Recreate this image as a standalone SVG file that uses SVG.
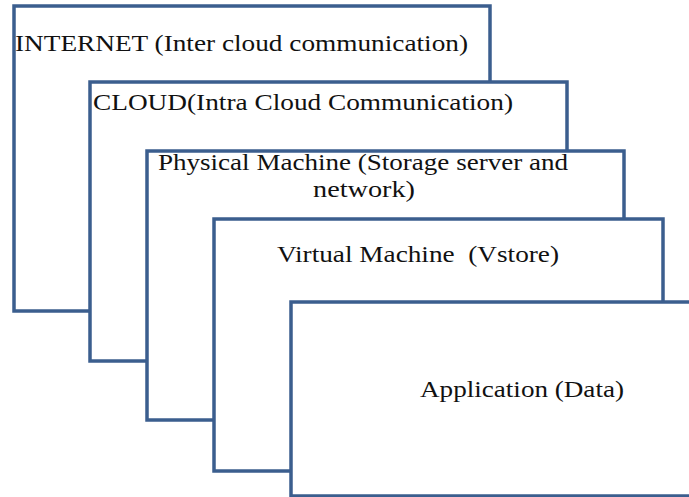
<svg xmlns="http://www.w3.org/2000/svg" width="689" height="497" viewBox="0 0 689 497">
<style>
.box{fill:#fff;stroke:#3B5E8E;stroke-width:3.5}
.t{font-family:"Liberation Serif","Times New Roman",serif;font-size:23px;fill:#111;white-space:pre}
</style>
<rect width="689" height="497" fill="#fff"/>
<g id="internet"><rect class="box" x="14" y="6" width="476" height="305"/>
<text class="t" x="15" y="51" textLength="453" lengthAdjust="spacingAndGlyphs">INTERNET (Inter cloud communication)</text></g>
<g id="cloud"><rect class="box" x="90" y="82" width="477" height="279"/>
<text class="t" x="93" y="110" textLength="420" lengthAdjust="spacingAndGlyphs">CLOUD(Intra Cloud Communication)</text></g>
<g id="physical"><rect class="box" x="147" y="151" width="477" height="269"/>
<text class="t" x="158" y="170" textLength="410" lengthAdjust="spacingAndGlyphs">Physical Machine (Storage server and</text>
<text class="t" x="313" y="197" textLength="102" lengthAdjust="spacingAndGlyphs">network)</text></g>
<g id="virtual"><rect class="box" x="214" y="219" width="449" height="252"/>
<text class="t" x="277" y="262" textLength="282" lengthAdjust="spacingAndGlyphs" xml:space="preserve">Virtual Machine  (Vstore)</text></g>
<g id="application"><rect class="box" x="291" y="302" width="400" height="194"/>
<text class="t" x="420" y="397" textLength="204" lengthAdjust="spacingAndGlyphs">Application (Data)</text></g>
<g id="connectors"/>
</svg>
